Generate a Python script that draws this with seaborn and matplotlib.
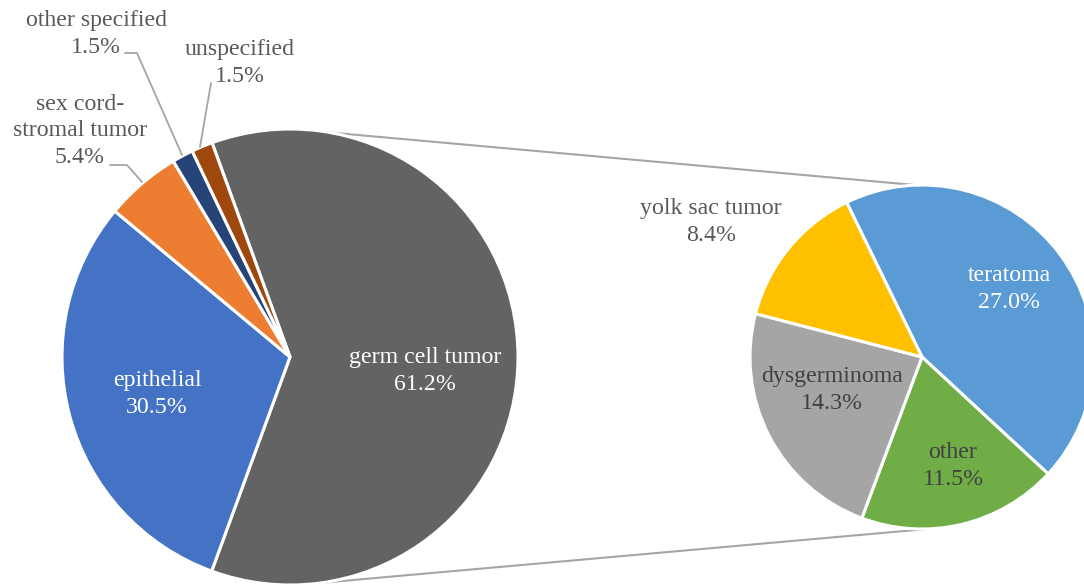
import numpy as np
import matplotlib.pyplot as plt
import seaborn as sns

# main pie data (clockwise from the split slice)
main_labels = ['germ cell tumor', 'epithelial', 'sex cord-\nstromal tumor',
               'other specified', 'unspecified']
main_values = [61.2, 30.5, 5.4, 1.5, 1.5]
main_colors = ['#636363', '#4472C4', '#ED7D31', '#264478', '#9E480E']

# breakdown of germ cell tumor
sub_labels = ['teratoma', 'other', 'dysgerminoma', 'yolk sac tumor']
sub_values = [27.0, 11.5, 14.3, 8.4]
sub_colors = ['#5B9BD5', '#70AD47', '#A5A5A5', '#FFC000']

W, H = 1084, 586
MAIN_C, MAIN_R = (290, H - 357), 228
SUB_C, SUB_R = (922, H - 357), 172
TXT = '#595959'

sns.set_theme(style="white")
plt.rcParams['font.family'] = ['Liberation Serif', 'DejaVu Serif']

fig = plt.figure(figsize=(W / 100, H / 100), dpi=100)
ax = fig.add_axes([0, 0, 1, 1])

wedge_kw = dict(edgecolor='white', linewidth=2.2)
ax.pie(main_values, colors=main_colors, startangle=110, counterclock=False,
       center=MAIN_C, radius=MAIN_R, wedgeprops=wedge_kw)
ax.pie(sub_values, colors=sub_colors, startangle=116, counterclock=False,
       center=SUB_C, radius=SUB_R, wedgeprops=wedge_kw)


def on_circle(c, r, deg):
    a = np.deg2rad(deg)
    return c[0] + r * np.cos(a), c[1] + r * np.sin(a)


# connector lines between the two pies
for a_main, a_sub in [(80, 92), (-82, -88)]:
    x0, y0 = on_circle(MAIN_C, MAIN_R, a_main)
    x1, y1 = on_circle(SUB_C, SUB_R, a_sub)
    ax.plot([x0, x1], [y0, y1], color='#A5A5A5', lw=1.5, zorder=0)


def pct(v):
    return f'{v:.1f}%'


fs = 17.2
LS = 1.35
# label centres in pixel layout
main_pos = [(425, 371, 'white'), (157, 394, 'white'), (80, 131, TXT),
            (96, 34, TXT), (240, 63, TXT)]
for lab, v, (x, y, col) in zip(main_labels, main_values, main_pos):
    ax.text(x, H - y, f'{lab}\n{pct(v)}', ha='center', va='center',
            color=col, fontsize=fs, linespacing=LS)

sub_pos = [(1009, 289, 'white'), (953, 466, '#404040'),
           (832, 390, '#404040'), (711, 222, TXT)]
for lab, v, (x, y, col) in zip(sub_labels, sub_values, sub_pos):
    ax.text(x, H - y, f'{lab}\n{pct(v)}', ha='center', va='center',
            color=col, fontsize=fs, linespacing=LS)

# leader lines for the small slices
leaders = [[(125, 53), (137, 53), (182, 155)],
           [(211, 83), (200, 147)],
           [(110, 165), (127, 165), (142, 182)]]
for pts in leaders:
    xs = [p[0] for p in pts]
    ys = [H - p[1] for p in pts]
    ax.plot(xs, ys, color='#A5A5A5', lw=1.3)

ax.set_xlim(0, W)
ax.set_ylim(0, H)
ax.set_aspect('equal')
ax.axis('off')

fig.savefig('out.png', dpi=100)
